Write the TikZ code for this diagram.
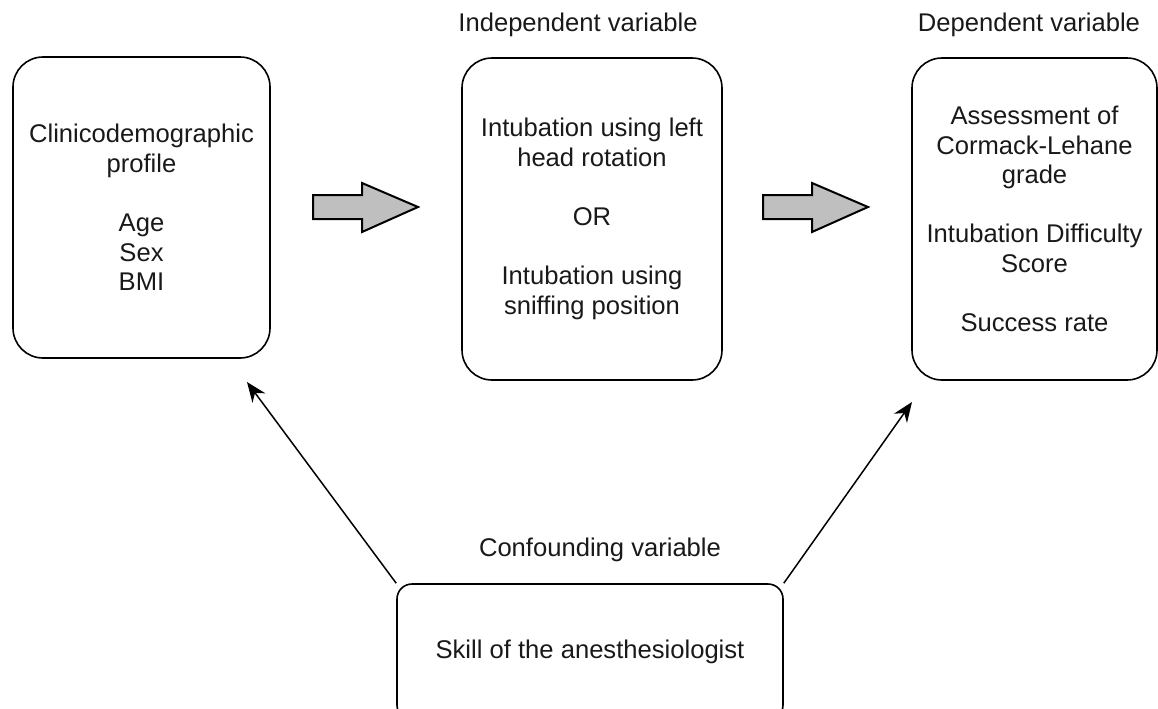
\documentclass[tikz,border=0pt]{standalone}
\usepackage{fontspec}
\setmainfont{Liberation Sans}
\usetikzlibrary{arrows.meta}
\usetikzlibrary{positioning}
\usetikzlibrary{calc}

\begin{document}
\begin{tikzpicture}[x=0.5pt,y=-0.5pt,
    every node/.style={font=\fontsize{12.8pt}{14.8pt}\selectfont, text=black!90},
    varbox/.style={draw, line width=0.8pt, rounded corners=15pt, align=center, inner sep=0pt},
    bigarrow/.style={draw, fill=black!25, line width=1pt, line join=miter},
    link/.style={-{Stealth[length=10pt,width=8pt]}, line width=0.75pt}]
  \useasboundingbox (0,0) rectangle (1158,708);

  % Variable boxes
  \node[varbox, minimum width=128.5pt, minimum height=150.5pt] (clin) at (141.5,207.5)
    {Clinicodemographic\\ profile\\[14.8pt] Age\\ Sex\\ BMI};
  \node[varbox, minimum width=130pt, minimum height=161pt] (indep) at (592,219)
    {Intubation using left\\ head rotation\\[14.8pt] OR\\[14.8pt] Intubation using\\ sniffing position};
  \node[varbox, minimum width=122.5pt, minimum height=161pt] (dep) at (1034.5,219)
    {Assessment of\\ Cormack-Lehane\\ grade\\[14.8pt] Intubation Difficulty\\ Score\\[14.8pt] Success rate};
  \node[varbox, rounded corners=7.5pt, minimum width=193pt, minimum height=68pt] (conf) at (590,652)
    {\raisebox{2.5pt}{Skill of the anesthesiologist}};

  % Headings
  \node (indeplabel) at (578,25)  {Independent variable};
  \node (deplabel)   at (1029,25) {Dependent variable};
  \node (conflabel)  at (600,550) {Confounding variable};

  % Block arrows between the boxes
  \foreach \xa in {313,763}
    \draw[bigarrow] (\xa,195) -- ++(49,0) -- ++(0,-12) -- ++(56,24) -- ++(-56,25)
      -- ++(0,-13) -- ++(-49,0) -- cycle;

  \coordinate (clinin) at (247,382);
  \coordinate (depin)  at (912,402);
  \draw[link] (conf.north west) -- (clinin);
  \draw[link] (conf.north east) -- (depin);
\end{tikzpicture}
\end{document}
